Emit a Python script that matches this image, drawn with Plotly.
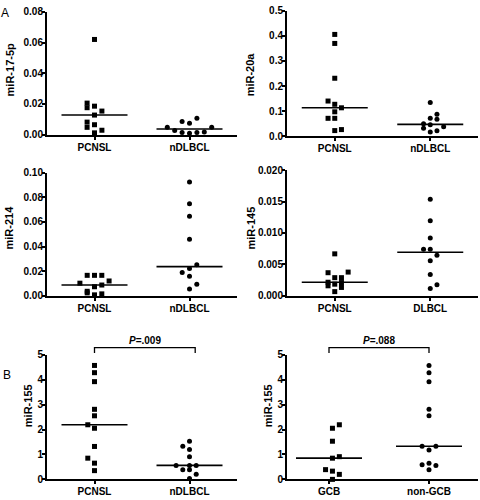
import numpy as np
import plotly.graph_objects as go

# ---------------- data ----------------
# Panel A, top-left: miR-17-5p
mir17_cats = ["PCNSL", "nDLBCL"]
mir17_pcnsl = [0.062, 0.0205, 0.0175, 0.0185, 0.0153, 0.0127, 0.0081, 0.0047, 0.0064, 0.0028, 0.0011]
mir17_pcnsl_lane = [0, -1, -1, 0, 1, 0, -1, -1, 0, 1, 0]
mir17_ndlbcl = [0.0047, 0.0026, 0.0085, 0.0073, 0.0106, 0.0013, 0.0009, 0.0013, 0.0017, 0.0047]
mir17_ndlbcl_lane = [-3, -2, -1, 0, 1, -1, 0, 1, 2, 3]

# Panel A, top-right: miR-20a
mir20_cats = ["PCNSL", "nDLBCL"]
mir20_pcnsl = [0.406, 0.370, 0.231, 0.140, 0.127, 0.113, 0.097, 0.071, 0.071, 0.022, 0.026]
mir20_pcnsl_lane = [0, 0, 0, -1, 0, 1, 0, -1, 0, 0, 1]
mir20_ndlbcl = [0.134, 0.071, 0.087, 0.0675, 0.049, 0.045, 0.037, 0.031, 0.016, 0.021]
mir20_ndlbcl_lane = [0, 0, 1, 1, -1, 0, 2, -1, 0, 1]

# Panel A, middle-left: miR-214
mir214_cats = ["PCNSL", "nDLBCL"]
mir214_pcnsl = [0.0165, 0.0165, 0.0165, 0.0101, 0.0119, 0.0072, 0.0086, 0.0035, 0.0022, 0.0006, 0.0014]
mir214_pcnsl_lane = [-1, 0, 1, -2, 2, 0, 1, -1, -1, 0, 1]
mir214_ndlbcl = [0.0926, 0.0748, 0.0647, 0.0459, 0.0252, 0.0220, 0.0189, 0.0157, 0.0093, 0.0053]
mir214_ndlbcl_lane = [0, 0, 0, 0, 1, 0, -1, 0, 1, 0]

# Panel A, middle-right: miR-145
mir145_cats = ["PCNSL", "DLBCL"]
mir145_pcnsl = [0.00666, 0.00365, 0.00375, 0.00286, 0.00286, 0.00213, 0.00156, 0.00182, 0.00208, 0.0013, 0.00063]
mir145_pcnsl_lane = [0, -1, 2, 0, 1, -1, -1, 0, 1, 1, 0]
mir145_dlbcl = [0.01538, 0.01195, 0.0092, 0.00739, 0.00739, 0.00645, 0.00556, 0.00338, 0.00171, 0.00114]
mir145_dlbcl_lane = [0, 0, 0, -1, 0, 1, 0, 0, 1, 0]

# Panel B, left: miR-155 PCNSL vs nDLBCL
mir155a_cats = ["PCNSL", "nDLBCL"]
mir155a_pcnsl = [4.57, 4.28, 3.92, 2.81, 2.55, 2.19, 2.05, 1.32, 0.85, 0.65, 0.35]
mir155a_pcnsl_lane = [0, 0, 0, 0, 0, -1, 0, 0, -1, 0, 0]
mir155a_ndlbcl = [1.53, 1.33, 1.20, 0.91, 0.56, 0.56, 0.56, 0.39, 0.39, 0.20, 0.03]
mir155a_ndlbcl_lane = [0, -1, 0, 0, -2, 0, 1, -1, 0, 1, 0]
mir155a_p = "P=.009"

# Panel B, right: miR-155 GCB vs non-GCB
mir155b_cats = ["GCB", "non-GCB"]
mir155b_gcb = [2.19, 2.05, 1.53, 0.91, 0.85, 0.39, 0.33, 0.20, 0.0]
mir155b_gcb_lane = [1.5, 0.5, 0.5, 1.5, 0.5, -0.5, 0.5, 1.5, 0.5]
mir155b_nongcb = [4.57, 4.28, 3.92, 2.81, 2.55, 1.33, 1.33, 1.18, 0.59, 0.65, 0.56, 0.39]
mir155b_nongcb_lane = [0, 0, 0, 0, 0, -1, 1, 0, -1, 0, 1, 0]
mir155b_p = "P=.088"

# ---------------- layout helpers ----------------
W, H = 480, 500
FONT = "Liberation Sans"


def fx(p):
    return p / W


def fy(p):
    return 1 - p / H


panels = [
    dict(xdom=(47, 237), ydom=(6, 131.7), xrange=(-0.5, 1.5), yrange=(0, 0.08),
         yticks=[0, 0.02, 0.04, 0.06, 0.08], fmt=".2f", cats=mir17_cats, step=7.4,
         groups=[(mir17_pcnsl, mir17_pcnsl_lane, "square"), (mir17_ndlbcl, mir17_ndlbcl_lane, "circle")],
         title="miR-17-5p", tpos=(10, 66)),
    dict(xdom=(287, 478), ydom=(5, 133.3), xrange=(-0.5, 1.5), yrange=(0, 0.5),
         yticks=[0, 0.1, 0.2, 0.3, 0.4, 0.5], fmt=".1f", cats=mir20_cats, step=6.7,
         groups=[(mir20_pcnsl, mir20_pcnsl_lane, "square"), (mir20_ndlbcl, mir20_ndlbcl_lane, "circle")],
         title="miR-20a", tpos=(250, 70)),
    dict(xdom=(47, 237), ydom=(171, 296.7), xrange=(-0.5, 1.5), yrange=(0, 0.10),
         yticks=[0, 0.02, 0.04, 0.06, 0.08, 0.10], fmt=".2f", cats=mir214_cats, step=7.3,
         groups=[(mir214_pcnsl, mir214_pcnsl_lane, "square"), (mir214_ndlbcl, mir214_ndlbcl_lane, "circle")],
         title="miR-214", tpos=(9, 227)),
    dict(xdom=(287, 478), ydom=(168.3, 296.7), xrange=(-0.5, 1.5), yrange=(0, 0.020),
         yticks=[0, 0.005, 0.010, 0.015, 0.020], fmt=".3f", cats=mir145_cats, step=6.7,
         groups=[(mir145_pcnsl, mir145_pcnsl_lane, "square"), (mir145_dlbcl, mir145_dlbcl_lane, "circle")],
         title="miR-145", tpos=(251, 228)),
    dict(xdom=(47, 237), ydom=(357.3, 485), xrange=(-0.5, 1.5), yrange=(0, 5),
         yticks=[0, 1, 2, 3, 4, 5], fmt="d", cats=mir155a_cats, step=6.7,
         groups=[(mir155a_pcnsl, mir155a_pcnsl_lane, "square"), (mir155a_ndlbcl, mir155a_ndlbcl_lane, "circle")],
         title="miR-155", tpos=(28, 410), ptext=mir155a_p, bracket=(0, 1.06)),
    dict(xdom=(287, 478), ydom=(357.3, 485), xrange=(-0.42, 1.49), yrange=(0, 5),
         yticks=[0, 1, 2, 3, 4, 5], fmt="d", cats=mir155b_cats, step=6.9,
         groups=[(mir155b_gcb, mir155b_gcb_lane, "square"), (mir155b_nongcb, mir155b_nongcb_lane, "circle")],
         title="miR-155", tpos=(268, 410), ptext=mir155b_p, bracket=(0, 1.0)),
]

fig = go.Figure()
layout = dict(width=W, height=H, margin=dict(l=0, r=0, t=0, b=0),
              paper_bgcolor="white", plot_bgcolor="white", showlegend=False)
annotations = []
shapes = []

for i, p in enumerate(panels, start=1):
    xa = "x" if i == 1 else f"x{i}"
    ya = "y" if i == 1 else f"y{i}"
    x0, x1 = p["xdom"]
    ytop, ybot = p["ydom"]
    xr = p["xrange"]
    ppu = (x1 - x0) / (xr[1] - xr[0])
    step = p["step"] / ppu
    for gi, (vals, lanes, sym) in enumerate(p["groups"]):
        xs = [gi + l * step for l in lanes]
        fig.add_trace(go.Scatter(x=xs, y=vals, mode="markers", xaxis=xa, yaxis=ya,
                                 marker=dict(symbol=sym, size=5, color="black", line=dict(width=0)),
                                 cliponaxis=False, hoverinfo="skip"))
        med = float(np.median(vals))
        hw = 33 / ppu
        fig.add_trace(go.Scatter(x=[gi - hw, gi + hw], y=[med, med], mode="lines", xaxis=xa, yaxis=ya,
                                 line=dict(color="black", width=1.6), cliponaxis=False, hoverinfo="skip"))

    axis_common = dict(showline=True, linecolor="black", linewidth=2, ticks="outside", ticklen=3,
                       tickwidth=1.5, tickcolor="black", showgrid=False, zeroline=False, fixedrange=True)
    layout["xaxis" if i == 1 else f"xaxis{i}"] = dict(
        axis_common, domain=[fx(x0), fx(x1)], range=list(xr), anchor=ya,
        tickvals=[0, 1], ticktext=p["cats"], ticklabelstandoff=-1,
        tickfont=dict(family=FONT, size=10, color="black", weight="bold"))
    layout["yaxis" if i == 1 else f"yaxis{i}"] = dict(
        axis_common, domain=[fy(ybot), fy(ytop)], range=list(p["yrange"]), anchor=xa,
        tickvals=p["yticks"], tickformat=p["fmt"], ticklabelstandoff=-3,
        tickfont=dict(family=FONT, size=10, color="black", weight="bold"))

    tx, tyc = p["title"], p["tpos"]
    annotations.append(dict(text=f"<b>{tx}</b>", x=fx(tyc[0]), y=fy(tyc[1]), xref="paper", yref="paper",
                            textangle=-90, showarrow=False, xanchor="center", yanchor="middle",
                            font=dict(family=FONT, size=11, color="black")))

    if "ptext" in p:
        bx0, bx1 = p["bracket"]
        px0 = x0 + (bx0 - xr[0]) * ppu
        px1 = x0 + (bx1 - xr[0]) * ppu
        shapes.append(dict(type="path", xref="paper", yref="paper",
                           path=(f"M {fx(px0)},{fy(355.5)} L {fx(px0)},{fy(350)} "
                                 f"L {fx(px1)},{fy(350)} L {fx(px1)},{fy(355.5)}"),
                           line=dict(color="black", width=1.3)))
        ptxt = p["ptext"]
        annotations.append(dict(text=f"<b><i>{ptxt[0]}</i>{ptxt[1:]}</b>", x=fx((px0 + px1) / 2), y=fy(343),
                                xref="paper", yref="paper", showarrow=False,
                                xanchor="center", yanchor="middle",
                                font=dict(family=FONT, size=10, color="black")))

# panel letters
annotations.append(dict(text="A", x=fx(5), y=fy(7), xref="paper", yref="paper", showarrow=False,
                        xanchor="center", yanchor="middle", font=dict(family=FONT, size=12, color="black")))
annotations.append(dict(text="B", x=fx(7), y=fy(378), xref="paper", yref="paper", showarrow=False,
                        xanchor="center", yanchor="middle", font=dict(family=FONT, size=12, color="black")))

layout["annotations"] = annotations
layout["shapes"] = shapes
fig.update_layout(**layout)
fig.write_html("out.html", config={"displayModeBar": False},
               post_script="document.body.style.margin='0';document.body.style.overflow='hidden';")
